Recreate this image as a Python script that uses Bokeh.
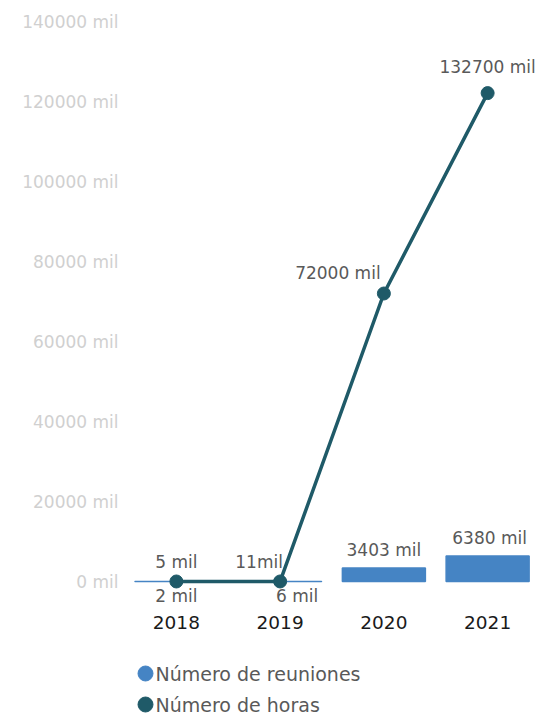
from bokeh.plotting import figure
from bokeh.layouts import column
from bokeh.models import (ColumnDataSource, FixedTicker, PrintfTickFormatter,
                          FactorRange, Range1d)
from bokeh.core.properties import value
from bokeh.embed import file_html
from bokeh.resources import INLINE

# ---- data ----
years = ["2018", "2019", "2020", "2021"]
meetings = [2, 6, 3403, 6380]
meeting_labels = ["2 mil", "6 mil", "3403 mil", "6380 mil"]
hours = [5, 11, 72000, 122100]
hours_labels = ["5 mil", "11mil", "72000 mil", "132700 mil"]
y_ticks = [0, 20000, 40000, 60000, 80000, 100000, 120000, 140000]
series_names = ["Número de reuniones", "Número de horas"]

# ---- styles ----
FONT = "DejaVu Sans"
BAR_COLOR = "#4584c4"
LINE_COLOR = "#1f5a68"
LABEL_COLOR = "#595959"
series_colors = [BAR_COLOR, LINE_COLOR]
LEFT, RIGHT = 124, 5

# label offsets (screen px)
meet_dx = [0, 17, 0, 2]
meet_dy = [15, 15, -18, -18]
hour_dx = [0, -21, -46, 0]
hour_dy = [-19, -19, -21, -26]

src_bar = ColumnDataSource(dict(x=years, top=meetings, lab=meeting_labels,
                                dx=meet_dx, dy=meet_dy))
src_line = ColumnDataSource(dict(x=years, y=hours, lab=hours_labels,
                                 dx=hour_dx, dy=hour_dy))

p = figure(x_range=FactorRange(*years), y_range=(-7250, 142000),
           width=544, height=640, output_backend="svg", toolbar_location=None,
           min_border_left=LEFT, min_border_right=RIGHT, min_border_top=13,
           min_border_bottom=30)
p.outline_line_color = None
p.xgrid.visible = False
p.ygrid.visible = False
p.background_fill_color = None
p.border_fill_color = "white"

bars = p.vbar(x="x", top="top", width=0.8, source=src_bar,
              fill_color=BAR_COLOR, line_color=BAR_COLOR, line_width=1.5)
p.text(x="x", y="top", text="lab", x_offset="dx", y_offset="dy", source=src_bar,
       text_font=value(FONT), text_font_size="17px", text_color=LABEL_COLOR,
       text_align="center", text_baseline="middle")

ln = p.line(x="x", y="y", source=src_line, line_color=LINE_COLOR, line_width=3.5)
pts = p.scatter(x="x", y="y", source=src_line, size=13, fill_color=LINE_COLOR,
                line_color=LINE_COLOR)
p.text(x="x", y="y", text="lab", x_offset="dx", y_offset="dy", source=src_line,
       text_font=value(FONT), text_font_size="17px", text_color=LABEL_COLOR,
       text_align="center", text_baseline="middle")

# axes
p.yaxis.ticker = FixedTicker(ticks=y_ticks)
p.yaxis.formatter = PrintfTickFormatter(format="%d mil")
p.yaxis.axis_line_color = None
p.yaxis.major_tick_line_color = None
p.yaxis.minor_tick_line_color = None
p.yaxis.major_tick_out = 0
p.yaxis.minor_tick_out = 0
p.yaxis.major_label_text_color = "#d0d0d0"
p.yaxis.major_label_text_font = FONT
p.yaxis.major_label_text_font_size = "17px"
p.yaxis.major_label_standoff = 6

p.xaxis.axis_line_color = None
p.xaxis.major_tick_line_color = None
p.xaxis.minor_tick_line_color = None
p.xaxis.major_tick_out = 0
p.xaxis.minor_tick_out = 0
p.xaxis.major_label_text_color = "#1a1a1a"
p.xaxis.major_label_text_font = FONT
p.xaxis.major_label_text_font_size = "18.5px"
p.xaxis.major_label_standoff = 5

# legend strip below the chart (screen-like coordinates, y downwards)
lf = figure(width=544, height=77, output_backend="svg", toolbar_location=None,
            min_border=0, min_border_left=LEFT, min_border_right=RIGHT,
            x_range=Range1d(LEFT, 544 - RIGHT), y_range=Range1d(77, 0))
lf.axis.visible = False
lf.grid.visible = False
lf.outline_line_color = None
leg_src = ColumnDataSource(dict(name=series_names, color=series_colors,
                                x=[145, 145], y=[33, 64]))
lf.scatter(x="x", y="y", source=leg_src, size=15, fill_color="color",
           line_color="color")
lf.text(x="x", y="y", text="name", source=leg_src, x_offset=10,
        text_font=value(FONT), text_font_size="19px", text_color=LABEL_COLOR,
        text_align="left", text_baseline="middle")

layout = column(p, lf, spacing=0)
open("out.html", "w").write(file_html(layout, INLINE))
